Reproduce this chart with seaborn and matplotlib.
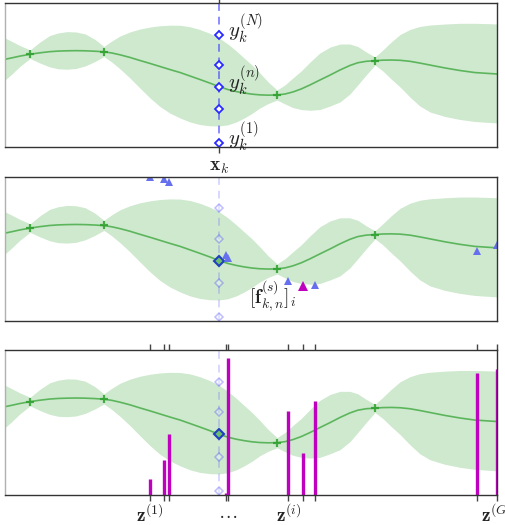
import numpy as np
import pandas as pd
import matplotlib.pyplot as plt
import seaborn as sns

# GP posterior (x in 0..10, y in 0..10)
grid_x = [0.00, 0.14, 0.30, 0.51, 0.71, 0.91, 1.08, 1.26, 1.44, 1.63,
          1.83, 2.01, 2.17, 2.34, 2.54, 2.74, 2.95, 3.15, 3.35, 3.56,
          3.76, 3.96, 4.17, 4.35, 4.53, 4.70, 4.86, 5.02, 5.18, 5.35,
          5.53, 5.69, 5.85, 6.02, 6.20, 6.40, 6.61, 6.81, 7.01, 7.17,
          7.34, 7.52, 7.68, 7.85, 8.03, 8.23, 8.43, 8.64, 8.94, 9.25,
          9.55, 9.86, 10.00]
gp_mean = [6.09, 6.19, 6.31, 6.44, 6.54, 6.62, 6.66, 6.68, 6.69, 6.68,
           6.65, 6.61, 6.53, 6.40, 6.22, 6.01, 5.80, 5.59, 5.38, 5.17,
           4.93, 4.69, 4.43, 4.19, 3.99, 3.85, 3.75, 3.67, 3.62, 3.60,
           3.61, 3.68, 3.82, 4.03, 4.31, 4.65, 5.00, 5.35, 5.66, 5.85,
           5.95, 5.99, 6.03, 6.04, 6.02, 5.95, 5.83, 5.69, 5.49, 5.31,
           5.17, 5.10, 5.07]
gp_upper = [7.57, 7.33, 7.05, 6.74, 7.29, 7.74, 7.92, 8.01, 7.99, 7.85,
            7.47, 6.98, 7.36, 7.71, 7.99, 8.19, 8.33, 8.42, 8.46, 8.45,
            8.35, 8.16, 7.88, 7.57, 7.15, 6.67, 6.18, 5.69, 5.14, 4.51,
            3.96, 4.31, 4.79, 5.28, 5.90, 6.53, 6.94, 7.15, 7.15, 6.98,
            6.60, 6.25, 6.74, 7.29, 7.81, 8.16, 8.37, 8.47, 8.54, 8.59,
            8.59, 8.56, 8.54]
gp_lower = [4.65, 5.07, 5.59, 6.15, 5.83, 5.56, 5.43, 5.40, 5.45, 5.63,
            5.94, 6.28, 5.90, 5.42, 4.79, 4.10, 3.40, 2.81, 2.36, 2.01,
            1.74, 1.56, 1.47, 1.46, 1.54, 1.74, 2.01, 2.33, 2.71, 3.02,
            3.26, 2.99, 2.74, 2.60, 2.55, 2.60, 2.85, 3.13, 3.68, 4.31,
            5.00, 5.69, 5.28, 4.72, 4.17, 3.47, 2.85, 2.43, 2.12, 1.91,
            1.77, 1.70, 1.67]
train_x = [0.51, 2.01, 5.53, 7.52]
train_y = [6.44, 6.62, 3.61, 5.99]

x_k = 4.35
y_k = [0.30, 2.65, 4.19, 5.70, 7.80]
y_labels = [r'$y_k^{(1)}$', r'$y_k^{(n)}$', r'$y_k^{(N)}$']
y_label_pos = [0.30, 4.19, 7.80]

z_pts = [2.95, 3.24, 3.34, 4.49, 4.53, 5.76, 6.05, 6.30, 9.60, 9.99]
f_samples = [9.97, 9.86, 9.63, 4.55, 4.39, 2.78, 2.41, 2.46, 4.83, 5.24]
z_weights = [1.08, 2.41, 4.21, 0.16, 9.47, 5.81, 2.87, 6.50, 8.43, 8.71]
z_ticklabels = [r'$\mathbf{z}^{(1)}$', '', '', '', r'$\ldots$',
                r'$\mathbf{z}^{(i)}$', '', '', '', r'$\mathbf{z}^{(G)}$']
s_idx = 6

sns.set_style('white')
plt.rcParams['mathtext.fontset'] = 'cm'

fig = plt.figure(figsize=(5.06, 5.25), dpi=100)
ax1 = fig.add_axes([0.0099, 0.720, 0.9723, 0.2743])
ax2 = fig.add_axes([0.0099, 0.3886, 0.9723, 0.2748])
ax3 = fig.add_axes([0.0099, 0.0571, 0.9723, 0.2762])

green = '#2ca02c'
for ax in (ax1, ax2, ax3):
    ax.fill_between(grid_x, gp_lower, gp_upper, color=green, alpha=0.23, lw=0)
    sns.lineplot(x=grid_x, y=gp_mean, ax=ax, color=green, alpha=0.7, lw=1.2)
    ax.plot(train_x, train_y, '+', color=green, ms=6, mew=1.6, alpha=0.85)
    ax.set_xlim(0, 10)
    ax.set_ylim(0, 10)
    ax.set_yticks([])
    for side, sp in ax.spines.items():
        sp.set_visible(True)
        sp.set_color('#333333')
        sp.set_linewidth(1.0)
    ax.spines['left'].set_color('#b0b0b0')

# panel 1: quadrature points at x_k
ax1.axvline(x_k, color='#4040ff', alpha=0.6, lw=1.4, ls=(0, (4, 3)))
ax1.plot([x_k] * len(y_k), y_k, 'D', ms=4.5, mfc='white', mec='#2a2aff', mew=1.3)
for lab, yy in zip(y_labels, y_label_pos):
    ax1.text(4.53, yy + 0.4, lab, fontsize=15, va='center', ha='left', color='#222222')
ax1.set_xticks([x_k])
ax1.set_xticklabels([r'$\mathbf{x}_k$'], fontsize=14)
ax1.tick_params(axis='x', top=True, bottom=True, direction='out', length=4,
                width=1, color='#444444', pad=3)

# panel 2: function samples at z points
ax2.axvline(x_k, color='#4040ff', alpha=0.2, lw=1.4, ls=(0, (4, 3)))
ax2.plot([x_k] * len(y_k), y_k, 'D', ms=4.5, mfc='white', mec='#2a2aff', mew=1.1, alpha=0.3)
ax2.plot([x_k], [y_k[2]], 'D', ms=5, mfc='#6cbf6c', mec='#1f3fc0', mew=1.5)
blue_x = [z for i, z in enumerate(z_pts) if i != s_idx]
blue_f = [f for i, f in enumerate(f_samples) if i != s_idx]
ax2.plot(blue_x, blue_f, '^', color='#6670ee', ms=5.5, mew=0)
ax2.plot([z_pts[s_idx]], [f_samples[s_idx]], '^', color='#bf00bf', ms=7, mew=0)
ax2.text(4.96, 1.79, r'$[\mathbf{f}_{k,n}^{(s)}]_i$', fontsize=14, va='center', ha='left',
         color='#222222')
ax2.set_xticks([])

# panel 3: weights at z points
ax3.axvline(x_k, color='#4040ff', alpha=0.2, lw=1.4, ls=(0, (4, 3)))
ax3.plot([x_k] * len(y_k), y_k, 'D', ms=4.5, mfc='white', mec='#2a2aff', mew=1.1, alpha=0.3)
ax3.plot([x_k], [y_k[2]], 'D', ms=5, mfc='#6cbf6c', mec='#1f3fc0', mew=1.5)
ax3.vlines(z_pts, 0, z_weights, color='#bf00bf', lw=2.4)
ax3.set_xticks(z_pts)
ax3.set_xticklabels(z_ticklabels, fontsize=14)
ax3.tick_params(axis='x', top=True, bottom=True, labeltop=False, direction='out',
                length=4, width=1, color='#444444', pad=2)

fig.savefig('out.png', dpi=100)
